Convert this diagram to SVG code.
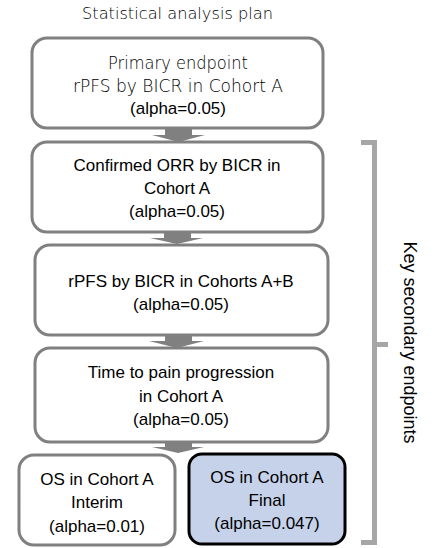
<svg xmlns="http://www.w3.org/2000/svg" width="444" height="548" viewBox="0 0 444 548">
<style>
.box{fill:#ffffff;stroke:#808080;stroke-width:3}
.fin{fill:#c6d2ea;stroke:#000000;stroke-width:3}
.t{font-family:"Liberation Sans",Arial,sans-serif;font-size:17px;fill:#000;text-anchor:middle}
.thin{font-family:"DejaVu Sans",sans-serif;font-weight:200;font-size:17px;fill:#000;text-anchor:middle}
.arr{fill:#808080}
.br{fill:none;stroke:#a6a6a6;stroke-width:5}
</style>
<rect width="444" height="548" fill="#ffffff"/>
<text class="thin" x="177.5" y="19" textLength="191" lengthAdjust="spacingAndGlyphs" style="font-size:16px">Statistical analysis plan</text>
<g id="connectors">
<path class="arr" d="M165 128 H192 V135 H205 L178.5 142 L152 135 H165 Z"/>
<path class="arr" d="M164 232 H191 V238 H203 L177 244 L150 238 H164 Z"/>
<path class="arr" d="M165 335 H192 V341 H204 L177 348 L149 341 H165 Z"/>
<path class="arr" d="M165 442 H192 V447 H204 L178 453 L152 447 H165 Z"/>
</g>
<g id="n1">
<rect class="box" x="32" y="38" width="291" height="90" rx="15"/>
<text class="thin" x="178" y="69" textLength="140" lengthAdjust="spacingAndGlyphs">Primary endpoint</text>
<text class="thin" x="178" y="92" textLength="210" lengthAdjust="spacingAndGlyphs">rPFS by BICR in Cohort A</text>
<text class="t" x="178" y="114">(alpha=0.05)</text>
</g>
<g id="n2">
<rect class="box" x="32" y="142" width="291" height="90" rx="15"/>
<text class="t" x="177" y="171">Confirmed ORR by BICR in</text>
<text class="t" x="177" y="194">Cohort A</text>
<text class="t" x="177" y="217">(alpha=0.05)</text>
</g>
<g id="n3">
<rect class="box" x="35" y="245" width="293" height="90" rx="15"/>
<text class="t" x="181" y="287">rPFS by BICR in Cohorts A+B</text>
<text class="t" x="181" y="310">(alpha=0.05)</text>
</g>
<g id="n4">
<rect class="box" x="35" y="348" width="293" height="94" rx="15"/>
<text class="t" x="181" y="378">Time to pain progression</text>
<text class="t" x="181" y="402">in Cohort A</text>
<text class="t" x="181" y="425">(alpha=0.05)</text>
</g>
<g id="n5">
<rect class="box" x="19" y="455" width="156" height="90" rx="15"/>
<text class="t" x="97" y="485">OS in Cohort A</text>
<text class="t" x="97" y="508">Interim</text>
<text class="t" x="97" y="532">(alpha=0.01)</text>
</g>
<g id="n6">
<rect class="fin" x="189" y="454" width="156" height="90" rx="13"/>
<text class="t" x="267" y="483">OS in Cohort A</text>
<text class="t" x="267" y="506">Final</text>
<text class="t" x="267" y="529">(alpha=0.047)</text>
</g>
<g id="bracket">
<path class="br" d="M361 142.5 H374.5 V542.5 H361 M374.5 344.5 H388"/>
<text class="t" transform="translate(404,342.5) rotate(90)" x="0" y="0" style="font-size:18px">Key secondary endpoints</text>
</g>
</svg>
